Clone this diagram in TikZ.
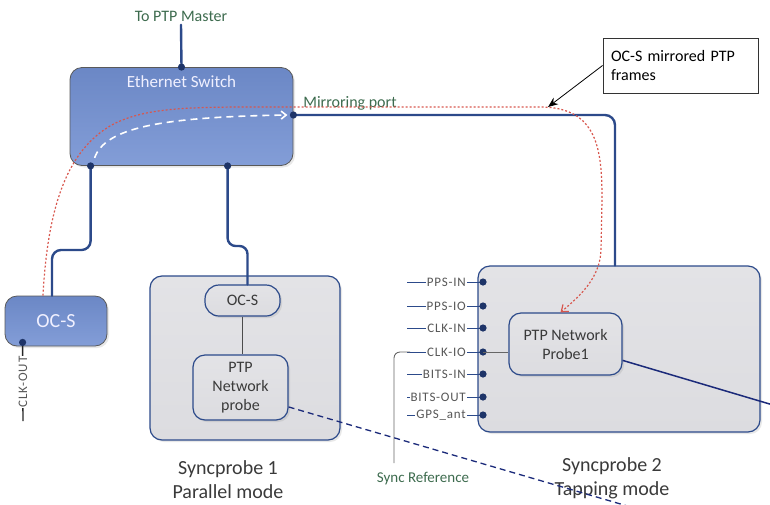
\documentclass[tikz,border=0pt]{standalone}
\usepackage{fontspec}
\setmainfont{Carlito}
\newfontfamily\portfont[LetterSpace=6]{Carlito}
\usetikzlibrary{arrows.meta,positioning,shadows}
\usepackage{xcolor}
\definecolor{swblue}{HTML}{7290D2}
\definecolor{wire}{HTML}{2C4A8A}
\definecolor{dotblue}{HTML}{1E3468}
\definecolor{navy}{HTML}{1B2A7A}
\definecolor{panel}{HTML}{DCDCE0}
\definecolor{tagreen}{HTML}{3D6B4E}
\definecolor{trace}{HTML}{D8574E}
\definecolor{inktext}{HTML}{3A3A3A}
\newcommand{\portdot}[1] {
    \fill[dotblue] (#1) circle (3.6pt);
}
\tikzset{
    unit/.style={
        rounded corners=12pt,
        inner sep=0pt,
        align=center,
        drop shadow={opacity=0.18,shadow xshift=2pt,shadow yshift=-2pt}
    },
    bluebox/.style={
        unit,
        draw=black!65,
        line width=0.8pt,
        top color=swblue!94!black,
        bottom color=swblue!88!white,
        text=white!94!blue
    },
    graybox/.style={
        unit,
        draw=wire,
        line width=1.2pt,
        top color=panel!80!white,
        bottom color=panel,
        text=inktext
    },
    big/.style={font=\fontsize{16}{19}\selectfont},
    huge/.style={font=\fontsize{20}{24}\selectfont},
    wire/.style={draw=wire,line width=2.4pt,line cap=round},
    tag/.style={big,text=tagreen},
    portline/.style={draw=wire,line width=1pt},
    portlabel/.style={font=\portfont\fontsize{13}{14}\selectfont,text=inktext!85,fill=white,inner xsep=1pt,inner ysep=0pt}
}
\begin{document}
\begin{tikzpicture}[x=1pt,y=-1pt]
    \useasboundingbox (0,0) rectangle (770,504);
    \clip (0,0) rectangle (770,504);
    \node[bluebox,minimum width=223pt,minimum height=98pt] (sw) at (181.5,116.5) {};
    \node[text=white!94!blue,font=\fontsize{17}{20}\selectfont,below=5pt of sw.north] (swname) {Ethernet Switch};
    \node[bluebox,huge,minimum width=102pt,minimum height=50pt] (ocs) at (56,321) {OC-S};
    \node[graybox,minimum width=190pt,minimum height=164pt] (sp1) at (245,358) {};
    \node[graybox,minimum width=282pt,minimum height=166pt] (sp2) at (619,349) {};
    \node[graybox,big,minimum width=75pt,minimum height=31pt,rounded corners=14pt] (sp1ocs) at (242.5,300.5) {OC-S};
    \node[graybox,big,minimum width=95pt,minimum height=65pt] (pnp) at (240.5,387.5) {PTP\\Network\\probe};
    \node[graybox,big,minimum width=113pt,minimum height=62pt] (probe1) at (565.5,344) {PTP Network\\Probe1};
    \node[draw=black!80,line width=0.9pt,big,align=left,text width=139pt,inner xsep=8pt,minimum height=55pt] (note) at (680.5,65.5) {OC-S mirrored PTP\\frames};

    \node[tag] (master) at (181,16) {To PTP Master};
    \node[tag] (mirror) at (350,103) {Mirroring port};
    \node[tag,font=\fontsize{15}{18}\selectfont] (sync) at (423,479) {Sync Reference};
    \node[huge,text=inktext,align=center] (sp1cap) at (228,480) {Syncprobe 1\\Parallel mode};
    \node[huge,text=inktext,align=center] (sp2cap) at (612,478) {Syncprobe 2\\Tapping mode};

    \coordinate (swT) at (sw.north);
    \coordinate (swM) at ([yshift=1.5pt]sw.east);
    \coordinate (swL) at ([xshift=21pt]sw.south west);
    \coordinate (swR) at ([xshift=158pt]sw.south west);
    \coordinate (ocsup) at ([xshift=-4pt]ocs.north);
    \coordinate (ocsclk) at ([shift={(18pt,4pt)}]ocs.south west);
    \coordinate (sp1up) at ([xshift=5pt]sp1ocs.north);
    \coordinate (sp2in) at ([xshift=-4pt]sp2.north);
    \coordinate (clkend) at (23,421);
    \coordinate (offS) at (665,517);
    \coordinate (offE) at (800,413);
    \coordinate (mirtip) at (548,107);
    \coordinate (syncend) at (394,463);

    \draw[wire] (swT) -- (master.south);
    \draw[wire,rounded corners=10pt] (swM) -| (sp2in);
    \draw[wire,rounded corners=9pt] (swL) |- (52,250) -- (ocsup);
    \draw[wire,rounded corners=8pt] (swR) |- (247.5,246) -- (sp1up);
    \draw[black!70,line width=0.8pt] (sp1ocs.south) -- (sp1ocs.south |- pnp.north);

    \draw[black!85,line width=1.4pt] (ocsclk) -- (clkend);
    \node[portlabel,rotate=90] (clkout) at (23,382) {CLK-OUT};

    \foreach \pname/\py in {PPS-IN/282,PPS-IO/306,CLK-IN/328,CLK-IO/352,BITS-IN/374,BITS-OUT/397,GPS\_ant/415} {
        \draw[portline] (407,\py) -- (483,\py);
        \node[portlabel,anchor=east] at (467,\py) {\pname};
        \fill[dotblue] (483,\py) circle (3.6pt);
    }
    \coordinate (clkio) at (483,352);
    \coordinate (clkfree) at (410,352);
    \draw[black!60,line width=0.9pt] (clkio) -- (clkio -| probe1.west);
    \draw[black!60,line width=0.9pt,rounded corners=6pt] (clkfree) -| (syncend);

    \draw[navy,dashed,line width=1.3pt,dash pattern=on 6pt off 4pt] (pnp.-22) -- (offS);
    \draw[navy,line width=1.5pt] (probe1.-16) -- (offE);

    \draw[trace,line width=1.2pt,dash pattern=on 2pt off 2pt,-{Straight Barb[length=6pt,width=9pt]}]
        ([xshift=-13pt]ocs.north) .. controls (48,200) and (70,150) .. (110,126)
        .. controls (140,109) and (180,107) .. (250,107) -- (540,107)
        .. controls (598,107) and (602,150) .. (602,200) -- (601,250)
        .. controls (600,278) and (580,296) .. ([xshift=-5pt]probe1.north);
    \draw[white,line width=1.6pt,dash pattern=on 7pt off 5pt,-{Straight Barb[length=5pt,width=8pt]}]
        ([shift={(4pt,8pt)}]swL) .. controls (105,128) and (160,117) .. ([xshift=-6pt]swM);
    \draw[black,line width=0.8pt,-{Stealth[length=10pt,width=8pt]}] (note.west) -- (mirtip);

    \portdot{swT}
    \portdot{swM}
    \portdot{swL}
    \portdot{swR}
    \portdot{ocsclk}
\end{tikzpicture}
\end{document}
